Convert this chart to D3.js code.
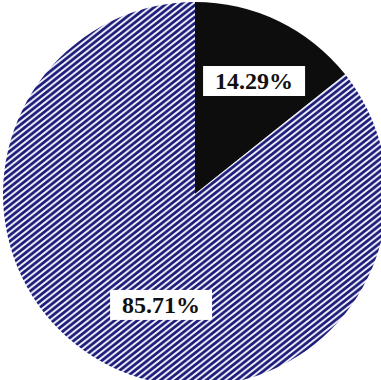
<!DOCTYPE html>
<html><head><meta charset="utf-8">
<script src="https://cdn.jsdelivr.net/npm/d3@7"></script>
<style>html,body{margin:0;padding:0;background:#fff;}svg{display:block;}</style>
</head><body>
<svg id="chart" width="381" height="380"></svg>
<script>
const categories = ["A", "B"];
const values = [14.29, 85.71];
const labels = ["14.29%", "85.71%"];

const svg = d3.select("#chart");
const cx = 195, cy = 194, R = 192;

// diagonal "/" stripes: tile w x h, line from bottom-left to top-right
const pw = 7.6, ph = 6;
const defs = svg.append("defs");
const pat = defs.append("pattern")
  .attr("id", "stripes").attr("patternUnits", "userSpaceOnUse")
  .attr("width", pw).attr("height", ph);
pat.append("rect").attr("width", pw).attr("height", ph).attr("fill", "#1e1d7a");
pat.append("path")
  .attr("d", `M${-pw},${2 * ph} L${2 * pw},${-ph} M${-pw},${ph} L${pw},${-ph} M0,${2 * ph} L${2 * pw},0`)
  .attr("stroke", "#f0f2fd").attr("stroke-width", 1.9).attr("fill", "none");

const fills = ["#0d0d0d", "url(#stripes)"];

const pie = d3.pie().sort(null).value(d => d)(values);
const arc = d3.arc().innerRadius(0).outerRadius(R);
const g = svg.append("g").attr("transform", `translate(${cx},${cy})`);
g.selectAll("path").data(pie).join("path")
  .attr("d", arc).attr("fill", (d, i) => fills[i]);

// label placement: angle and radius per slice (layout)
const labelPos = [{a: 27.6 * Math.PI / 180, r: 127.5}, {a: 197 * Math.PI / 180, r: 116}];
const lg = g.selectAll("g.lbl").data(pie).join("g").attr("class", "lbl")
  .attr("transform", (d, i) => `translate(${labelPos[i].r * Math.sin(labelPos[i].a)},${-labelPos[i].r * Math.cos(labelPos[i].a)})`);
lg.append("rect").attr("x", -51).attr("y", -15).attr("width", 102).attr("height", 30).attr("fill", "#fff");
lg.append("text").attr("text-anchor", "middle").attr("dy", "0.35em")
  .attr("font-family", "Liberation Serif, Times New Roman, serif")
  .attr("font-weight", "bold").attr("font-size", 24).attr("fill", "#111")
  .text((d, i) => labels[i]);
</script>
</body></html>
